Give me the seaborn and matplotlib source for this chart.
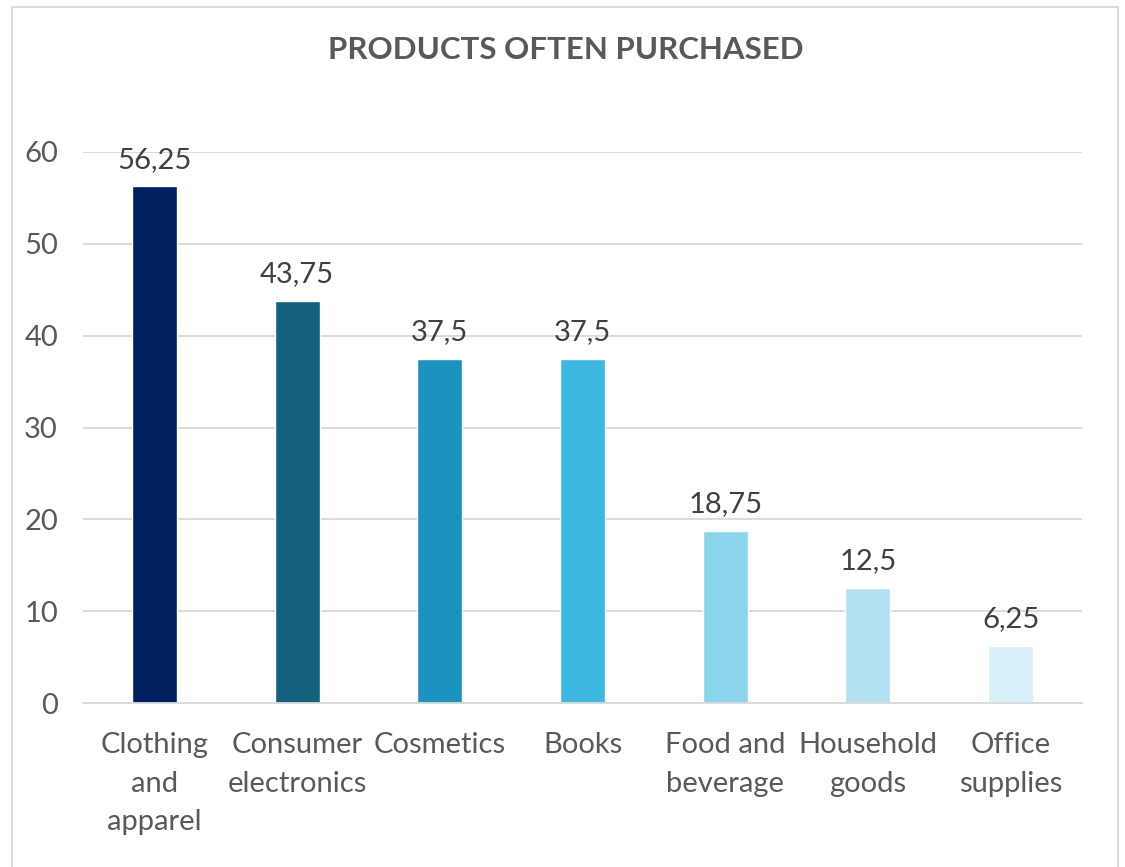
import matplotlib
matplotlib.use("Agg")
import matplotlib.pyplot as plt
import seaborn as sns
import pandas as pd
from matplotlib.patches import Rectangle

categories = ["Clothing\nand\napparel", "Consumer\nelectronics", "Cosmetics", "Books",
              "Food and\nbeverage", "Household\ngoods", "Office\nsupplies"]
values = [56.25, 43.75, 37.5, 37.5, 18.75, 12.5, 6.25]
value_labels = ["56,25", "43,75", "37,5", "37,5", "18,75", "12,5", "6,25"]
colors = ["#002060", "#156280", "#1C93BF", "#3DB8E0", "#8BD5EC", "#B2E2F1", "#D8F0F8"]
yticks = [0, 10, 20, 30, 40, 50, 60]
title = "PRODUCTS OFTEN PURCHASED"

sns.set_theme(style="white")
plt.rcParams['font.family'] = ['Lato', 'DejaVu Sans']

fig = plt.figure(figsize=(11.25, 8.67), dpi=100)
ax = fig.add_axes([83/1125, 1-703/867, (1082-83)/1125, (703-152)/867])

df = pd.DataFrame({"cat": categories, "val": values})
sns.barplot(data=df, x="cat", y="val", hue="cat", palette=colors, legend=False,
            width=0.315, ax=ax, saturation=1)

ax.set_ylim(0, 60)
ax.set_xlim(-0.5, 6.5)
ax.set_yticks(yticks)
ax.set_yticklabels([str(t) for t in yticks])
ax.grid(axis="y", color="#D9D9D9", linewidth=1.3)
ax.set_axisbelow(True)
for s in ["top", "right", "left"]:
    ax.spines[s].set_visible(False)
ax.spines["bottom"].set_color("#D9D9D9")
ax.spines["bottom"].set_linewidth(1.3)
ax.set_xlabel("")
ax.set_ylabel("")
ax.tick_params(axis="both", length=0, labelsize=21, colors="#595959")
ax.tick_params(axis="y", pad=18)
ax.tick_params(axis="x", pad=21)
for lbl in ax.get_xticklabels():
    lbl.set_linespacing(1.6)

for i, (v, t) in enumerate(zip(values, value_labels)):
    ax.annotate(t, (i, v), xytext=(0, 10), textcoords="offset points",
                ha="center", va="bottom", fontsize=21, color="#404040")

fig.text(566/1125, 1-50/867, title, ha="center", va="center",
         fontsize=22.5, fontweight="bold", color="#595959")

fig.patches.append(Rectangle((12/1125, -0.01), (1118-12)/1125, 1-7/867+0.01,
                             transform=fig.transFigure, fill=False,
                             edgecolor="#D9D9D9", linewidth=1.3))

fig.savefig("out.png", dpi=100)
